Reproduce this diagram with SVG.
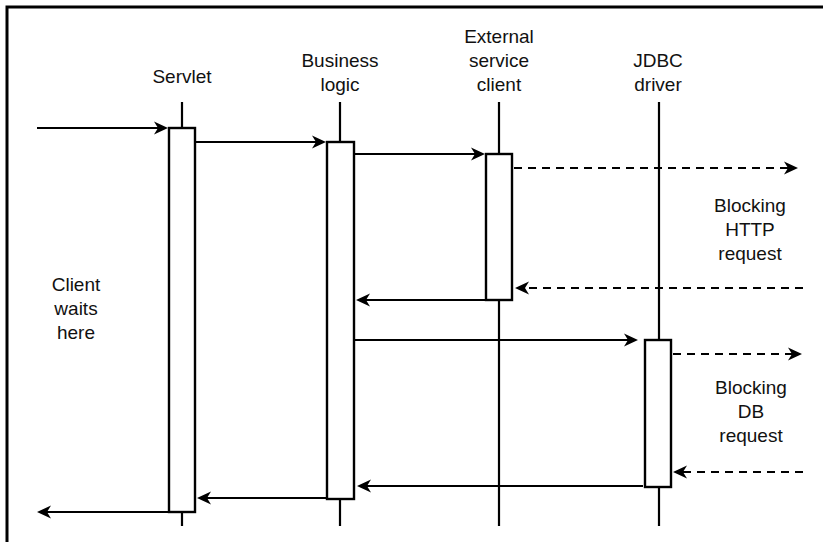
<svg xmlns="http://www.w3.org/2000/svg" width="823" height="542" viewBox="0 0 823 542">
<defs>
<marker id="ah" markerUnits="userSpaceOnUse" markerWidth="16" markerHeight="15" viewBox="0 0 16 15" refX="10" refY="7.5" orient="auto">
<path d="M1,1 L15,7.5 L1,14 L5,7.5 Z" fill="#000"/>
</marker>
<style>
.t{font-family:"Liberation Sans",Arial,sans-serif;font-size:19px;fill:#111;text-anchor:middle}
.ll{stroke:#000;stroke-width:2.2;fill:none}
.box{stroke:#000;stroke-width:2.4;fill:#fff}
.m{stroke:#000;stroke-width:2.2;fill:none;marker-end:url(#ah)}
.d{stroke-dasharray:8 6}
</style>
</defs>
<rect width="823" height="542" fill="#fff"/>
<path d="M7,542 V7 H823" stroke="#000" stroke-width="3" fill="none"/>

<g id="servlet">
<line class="ll" x1="182" y1="102" x2="182" y2="526"/>
<rect class="box" x="169" y="128" width="26" height="384"/>
<text class="t" x="182" y="83">Servlet</text>
</g>
<g id="business">
<line class="ll" x1="340" y1="102" x2="340" y2="526"/>
<rect class="box" x="327" y="142" width="27" height="357"/>
<text class="t" x="340" y="67">Business</text>
<text class="t" x="340" y="91">logic</text>
</g>
<g id="external">
<line class="ll" x1="499" y1="102" x2="499" y2="526"/>
<rect class="box" x="486" y="154" width="26" height="146"/>
<text class="t" x="499" y="43">External</text>
<text class="t" x="499" y="67">service</text>
<text class="t" x="499" y="91">client</text>
</g>
<g id="jdbc">
<line class="ll" x1="659" y1="102" x2="659" y2="526"/>
<rect class="box" x="645" y="340" width="26" height="147"/>
<text class="t" x="658" y="67">JDBC</text>
<text class="t" x="658" y="91">driver</text>
</g>
<g id="labels">
<text class="t" x="76" y="291">Client</text>
<text class="t" x="76" y="315">waits</text>
<text class="t" x="76" y="339">here</text>
<text class="t" x="750" y="212">Blocking</text>
<text class="t" x="750" y="236">HTTP</text>
<text class="t" x="750" y="260">request</text>
<text class="t" x="751" y="394">Blocking</text>
<text class="t" x="751" y="418">DB</text>
<text class="t" x="751" y="442">request</text>
</g>
<g id="connectors">
<line class="m" x1="37" y1="128" x2="163" y2="128"/>
<line class="m" x1="195" y1="142" x2="321" y2="142"/>
<line class="m" x1="354" y1="154" x2="480" y2="154"/>
<line class="m d" x1="514" y1="168" x2="793" y2="168"/>
<line class="m d" x1="803" y1="288" x2="520" y2="288"/>
<line class="m" x1="486" y1="300" x2="361" y2="300"/>
<line class="m" x1="354" y1="340" x2="633" y2="340"/>
<line class="m d" x1="673" y1="354" x2="797" y2="354"/>
<line class="m d" x1="803" y1="472" x2="678" y2="472"/>
<line class="m" x1="643" y1="486" x2="362" y2="486"/>
<line class="m" x1="327" y1="498" x2="202" y2="498"/>
<line class="m" x1="169" y1="512" x2="42" y2="512"/>
</g>
</svg>
